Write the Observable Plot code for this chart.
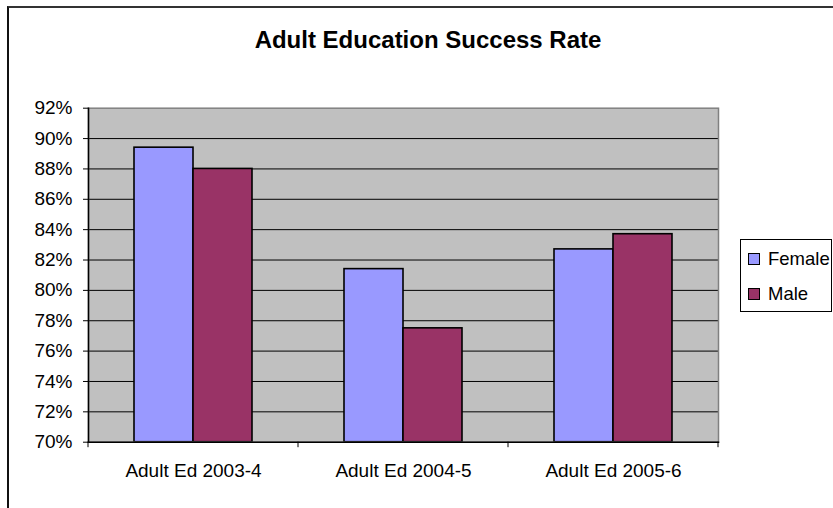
<!DOCTYPE html>
<html>
<head>
<meta charset="utf-8">
<script src="https://cdn.jsdelivr.net/npm/d3@7"></script>
<script src="https://cdn.jsdelivr.net/npm/@observablehq/plot@0.6"></script>
<style>
  html, body { margin: 0; padding: 0; background: #fff; }
  #wrap { position: relative; width: 833px; height: 508px; overflow: hidden; background: #fff;
          font-family: Arial, "Liberation Sans", sans-serif; color: #000; }
  #wrap svg.plot { position: absolute; left: 0; top: 0; }
  #border { position: absolute; left: 7px; top: 6px; width: 900px; height: 600px;
            border-left: 2px solid #111; border-top: 2px solid #333; }
  #title { position: absolute; left: 0; width: 856px; top: 28px; text-align: center;
           font-weight: bold; font-size: 24px; line-height: 24px; white-space: nowrap; }
  #legend { position: absolute; left: 740px; top: 239px; width: 92px; height: 73px;
            box-sizing: border-box; border: 1px solid #000; background: #fff; }
  .sw { position: absolute; width: 12px; height: 12px; box-sizing: border-box; border: 1.5px solid #000; }
  .lt { position: absolute; font-size: 18.5px; line-height: 18.5px; white-space: nowrap; }
</style>
</head>
<body>
<div id="wrap">
  <div id="border"></div>
  <div id="title">Adult Education Success Rate</div>
  <div id="legend"></div>
</div>
<script>
const categories = ["Adult Ed 2003-4", "Adult Ed 2004-5", "Adult Ed 2005-6"];
const series = ["Female", "Male"];
const female = [0.894, 0.814, 0.827];
const male = [0.880, 0.775, 0.837];
const yTicks = [0.70, 0.72, 0.74, 0.76, 0.78, 0.80, 0.82, 0.84, 0.86, 0.88, 0.90, 0.92];
const colors = ["#9999ff", "#993366"];

const values = {Female: female, Male: male};
const data = categories.flatMap((c, i) => series.map(s => ({cat: c, sex: s, value: values[s][i]})));
const yMin = yTicks[0], yMax = yTicks[yTicks.length - 1];

const chart = Plot.plot({
  width: 833,
  height: 508,
  marginLeft: 87,
  marginRight: 113.7,
  marginTop: 107.7,
  marginBottom: 66.3,
  style: {fontFamily: "Arial, 'Liberation Sans', sans-serif", fontSize: "19px", background: "transparent", color: "#000"},
  fx: {domain: categories, padding: 0, label: null},
  x: {domain: series, paddingInner: 0, paddingOuter: 0.767, axis: null},
  y: {domain: [yMin, yMax], clamp: true, label: null},
  color: {domain: series, range: colors},
  marks: [
    Plot.frame({facet: "super", fill: "#c0c0c0", stroke: "none"}),
    Plot.gridY(yTicks.slice(1, -1), {stroke: "#000", strokeOpacity: 1, strokeWidth: 1}),
    Plot.barY(data, {fx: "cat", x: "sex", y1: yMin, y2: "value", fill: "sex", stroke: "#000", strokeWidth: 1.6}),
    Plot.frame({facet: "super", stroke: "#808080", strokeWidth: 1.5, fill: "none"}),
    Plot.frame({facet: "super", anchor: "left", stroke: "#000", strokeWidth: 1.5}),
    Plot.frame({facet: "super", anchor: "bottom", stroke: "#000", strokeWidth: 1.5}),
    Plot.axisY({ticks: yTicks, tickFormat: d3.format(".0%"), tickSize: 5, tickPadding: 11, stroke: "#000", strokeOpacity: 1, label: null}),
    Plot.axisFx({anchor: "bottom", tickSize: 0, tickPadding: 21, label: null})
  ]
});

document.getElementById("wrap").appendChild(chart);

// category boundary tick marks on the bottom axis, placed via the fx scale
const fx = chart.scale("fx");
const yS = chart.scale("y");
const bounds = categories.map(c => fx.apply(c)).concat([fx.apply(categories[categories.length - 1]) + fx.bandwidth]);
const yb = yS.apply(yMin);
d3.select(chart).append("g")
  .selectAll("line").data(bounds).join("line")
  .attr("x1", d => d).attr("x2", d => d)
  .attr("y1", yb).attr("y2", yb + 5.5)
  .attr("stroke", "#000").attr("stroke-width", 1);

// legend
const legend = d3.select("#legend");
series.forEach((s, i) => {
  legend.append("div").attr("class", "sw")
    .style("left", "7px").style("top", (13 + i * 35) + "px")
    .style("background", colors[i]);
  legend.append("div").attr("class", "lt")
    .style("left", "27px").style("top", (10 + i * 35) + "px")
    .text(s);
});
</script>
</body>
</html>
